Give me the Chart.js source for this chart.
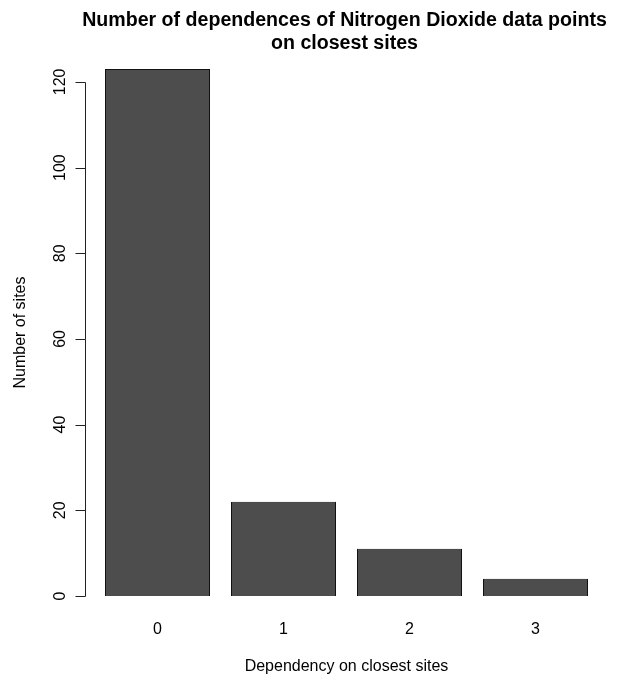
<!DOCTYPE html>
<html>
<head>
<meta charset="utf-8">
<script src="https://cdn.jsdelivr.net/npm/chart.js@4.4.1/dist/chart.umd.min.js"></script>
<style>
  html, body { margin: 0; padding: 0; background: #fff; }
</style>
</head>
<body>
<canvas id="c" width="619" height="677"></canvas>
<script>
const categories = ['0', '1', '2', '3'];
const siteCounts = [123, 22, 11, 4];
const yTicks = [0, 20, 40, 60, 80, 100, 120];
const titleLines = ['Number of dependences of Nitrogen Dioxide data points', 'on closest sites'];
const xTitle = 'Dependency on closest sites';
const yTitle = 'Number of sites';

const FONT = '"Liberation Sans", Arial, Helvetica, sans-serif';

// value axis runs 4% past the data range on both ends
const dataMax = Math.max(...siteCounts);
const pad = dataMax * 0.04;

// two-line bold heading centred over the plot, allowed to run wider than the plot
const heading = {
  id: 'heading',
  afterDraw(chart) {
    const ctx = chart.ctx;
    const area = chart.chartArea;
    const cx = (area.left + area.right) / 2 - 2;
    ctx.save();
    ctx.fillStyle = '#000';
    ctx.font = 'bold 19.6px ' + FONT;
    ctx.textAlign = 'center';
    ctx.textBaseline = 'alphabetic';
    titleLines.forEach((line, i) => ctx.fillText(line, cx, 26 + i * 22.7));
    ctx.restore();
  }
};

// left axis: line from first to last tick, outward tick marks, upright-rotated labels
const leftAxis = {
  id: 'leftAxis',
  afterDraw(chart) {
    const y = chart.scales.y;
    const ctx = chart.ctx;
    const x0 = 85.5;
    ctx.save();
    ctx.strokeStyle = '#222';
    ctx.lineWidth = 1;
    ctx.beginPath();
    ctx.moveTo(x0, Math.round(y.getPixelForValue(yTicks[0])) + 0.5);
    ctx.lineTo(x0, Math.round(y.getPixelForValue(yTicks[yTicks.length - 1])) + 0.5);
    yTicks.forEach(v => {
      const py = Math.round(y.getPixelForValue(v)) + 0.5;
      ctx.moveTo(x0, py);
      ctx.lineTo(x0 - 10, py);
    });
    ctx.stroke();
    ctx.fillStyle = '#000';
    ctx.font = '16px ' + FONT;
    ctx.textAlign = 'center';
    ctx.textBaseline = 'alphabetic';
    yTicks.forEach(v => {
      ctx.save();
      ctx.translate(65, y.getPixelForValue(v));
      ctx.rotate(-Math.PI / 2);
      ctx.fillText(String(v), 0, 0);
      ctx.restore();
    });
    ctx.restore();
  }
};

new Chart(document.getElementById('c'), {
  type: 'bar',
  data: {
    labels: categories,
    datasets: [{
      data: siteCounts,
      backgroundColor: '#4d4d4d',
      borderColor: '#111',
      borderWidth: 1,
      barPercentage: 1,
      categoryPercentage: 1 / 1.2
    }]
  },
  options: {
    responsive: false,
    animation: false,
    devicePixelRatio: 1,
    layout: { padding: { left: 0, right: 20.5, top: 48, bottom: 0 } },
    plugins: {
      legend: { display: false },
      tooltip: { enabled: false },
      title: { display: false }
    },
    scales: {
      x: {
        grid: { display: false, drawTicks: false },
        border: { display: false },
        ticks: { color: '#000', font: { family: FONT, size: 16 }, padding: 3 },
        title: {
          display: true, text: xTitle, color: '#000',
          font: { family: FONT, size: 16 },
          padding: { top: 0, bottom: 1 }
        },
        afterFit(s) { s.height = 60; }
      },
      y: {
        min: -pad,
        max: dataMax + pad,
        afterBuildTicks(s) { s.ticks = yTicks.map(v => ({ value: v })); },
        grid: { display: false, drawTicks: false },
        border: { display: false },
        ticks: { display: false },
        title: {
          display: true, text: yTitle, color: '#000',
          font: { family: FONT, size: 16 },
          padding: { top: 11, bottom: 0 }
        },
        afterFit(s) { s.width = 94.5; }
      }
    }
  },
  plugins: [heading, leftAxis]
});
</script>
</body>
</html>
